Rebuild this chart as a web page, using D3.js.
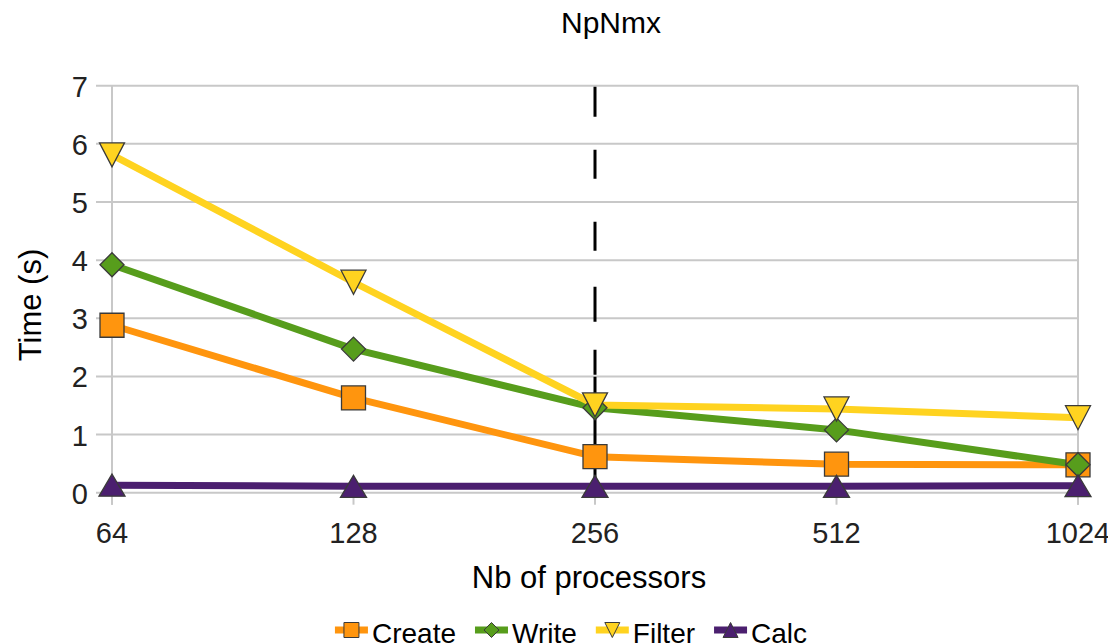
<!DOCTYPE html>
<html>
<head>
<meta charset="utf-8">
<script src="https://cdn.jsdelivr.net/npm/d3@7"></script>
<style>
  body { margin: 0; background: #fff; }
  svg { display: block; font-family: "Liberation Sans", Arial, sans-serif; }
</style>
</head>
<body>
<div id="chart"></div>
<script>
var categories = ['64', '128', '256', '512', '1024'];
var createValues = [2.88, 1.63, 0.62, 0.49, 0.48];
var writeValues = [3.92, 2.47, 1.46, 1.08, 0.48];
var filterValues = [5.81, 3.62, 1.51, 1.44, 1.29];
var calcValues = [0.13, 0.11, 0.11, 0.11, 0.12];
var yTicks = [0, 1, 2, 3, 4, 5, 6, 7];
var markerCategory = '256';
var seriesNames = ['Create', 'Write', 'Filter', 'Calc'];

(function() {
    'use strict';
    var width = 1108, height = 644;
    var left = 112, right = 1078, top = 85.7, bottom = 492.7;
    var fs = 29;

    var svg = d3.select('#chart').append('svg')
        .attr('width', width)
        .attr('height', height);

    var x = d3.scalePoint().domain(categories).range([left, right]);
    var y = d3.scaleLinear().domain([0, 7]).range([bottom, top]);

    var series = [
        { name: seriesNames[0], values: createValues, color: '#ff950e', shape: 'square' },
        { name: seriesNames[1], values: writeValues, color: '#579d1c', shape: 'diamond' },
        { name: seriesNames[2], values: filterValues, color: '#ffd320', shape: 'down' },
        { name: seriesNames[3], values: calcValues, color: '#4b1f6f', shape: 'up' }
    ];

    // marker paths centred on the bounding box
    var shapePath = function(shape, w, h) {
        var a = w / 2, b = h / 2;
        if (shape === 'square') return 'M' + -a + ',' + -b + 'H' + a + 'V' + b + 'H' + -a + 'Z';
        if (shape === 'diamond') return 'M0,' + -b + 'L' + a + ',0L0,' + b + 'L' + -a + ',0Z';
        if (shape === 'down') return 'M' + -a + ',' + -b + 'H' + a + 'L0,' + b + 'Z';
        return 'M0,' + -b + 'L' + a + ',' + b + 'H' + -a + 'Z';
    };
    var shapeSize = {
        square: [24, 24],
        diamond: [24, 24],
        down: [25, 24],
        up: [26, 22]
    };

    // title
    svg.append('text')
        .attr('x', 611)
        .attr('y', 33)
        .attr('text-anchor', 'middle')
        .attr('font-size', 30)
        .attr('fill', '#000')
        .text('NpNmx');

    // grid
    var grid = svg.append('g')
        .attr('stroke', '#c8c8c8')
        .attr('stroke-width', 2);
    grid.selectAll('line.h').data(yTicks).enter().append('line')
        .attr('class', 'h')
        .attr('x1', left - 16).attr('x2', right)
        .attr('y1', function(d) { return y(d); })
        .attr('y2', function(d) { return y(d); });
    grid.append('line')
        .attr('x1', left).attr('x2', left)
        .attr('y1', top).attr('y2', bottom + 12);
    grid.append('line')
        .attr('x1', right).attr('x2', right)
        .attr('y1', top).attr('y2', bottom + 12);
    grid.selectAll('line.t').data(categories).enter().append('line')
        .attr('class', 't')
        .attr('x1', function(d) { return x(d); })
        .attr('x2', function(d) { return x(d); })
        .attr('y1', bottom).attr('y2', bottom + 12);

    // y tick labels
    svg.append('g').selectAll('text').data(yTicks).enter().append('text')
        .attr('x', 88)
        .attr('y', function(d) { return y(d) + 11; })
        .attr('text-anchor', 'end')
        .attr('font-size', fs)
        .attr('fill', '#222')
        .text(function(d) { return d; });

    // x tick labels
    svg.append('g').selectAll('text').data(categories).enter().append('text')
        .attr('x', function(d) { return x(d); })
        .attr('y', 543)
        .attr('text-anchor', 'middle')
        .attr('font-size', fs)
        .attr('fill', '#222')
        .text(function(d) { return d; });

    // axis titles
    svg.append('text')
        .attr('x', 589)
        .attr('y', 588)
        .attr('text-anchor', 'middle')
        .attr('font-size', 31)
        .attr('fill', '#000')
        .text('Nb of processors');
    svg.append('text')
        .attr('transform', 'translate(41,305) rotate(-90)')
        .attr('text-anchor', 'middle')
        .attr('font-size', 31)
        .attr('fill', '#000')
        .text('Time (s)');

    // dashed marker line at 256
    svg.append('line')
        .attr('x1', x(markerCategory)).attr('x2', x(markerCategory))
        .attr('y1', y(7) + 1).attr('y2', y(0) + 4)
        .attr('stroke', '#000')
        .attr('stroke-width', 3)
        .attr('stroke-dasharray', '30,33,29,43,29,36,35,28,25,2,200');

    var line = d3.line()
        .x(function(d, i) { return x(categories[i]); })
        .y(function(d) { return y(d); });

    series.forEach(function(s) {
        svg.append('path')
            .attr('d', line(s.values))
            .attr('fill', 'none')
            .attr('stroke', s.color)
            .attr('stroke-width', 7)
            .attr('stroke-linejoin', 'round');
    });

    series.forEach(function(s) {
        var sz = shapeSize[s.shape];
        svg.append('g').selectAll('path').data(s.values).enter().append('path')
            .attr('transform', function(d, i) {
                return 'translate(' + x(categories[i]) + ',' + y(d) + ')';
            })
            .attr('d', shapePath(s.shape, sz[0], sz[1]))
            .attr('fill', s.color)
            .attr('stroke', '#3a3a3a')
            .attr('stroke-width', 1.3);
    });

    // legend
    var legend = svg.append('g');
    var lx = 0;
    series.forEach(function(s) {
        var item = legend.append('g').attr('transform', 'translate(' + lx + ',0)');
        item.append('line')
            .attr('x1', 0).attr('x2', 33)
            .attr('y1', 630).attr('y2', 630)
            .attr('stroke', s.color)
            .attr('stroke-width', 7);
        item.append('path')
            .attr('transform', 'translate(16.5,630)')
            .attr('d', shapePath(s.shape, 15, 15))
            .attr('fill', s.color)
            .attr('stroke', '#3a3a3a')
            .attr('stroke-width', 1);
        var t = item.append('text')
            .attr('x', 37)
            .attr('y', 643)
            .attr('font-size', 28)
            .attr('fill', '#000')
            .text(s.name);
        lx += 37 + t.node().getComputedTextLength() + 19;
    });
    var legendWidth = lx - 19;
    legend.attr('transform', 'translate(' + (571 - legendWidth / 2) + ',0)');
})();
</script>
</body>
</html>
